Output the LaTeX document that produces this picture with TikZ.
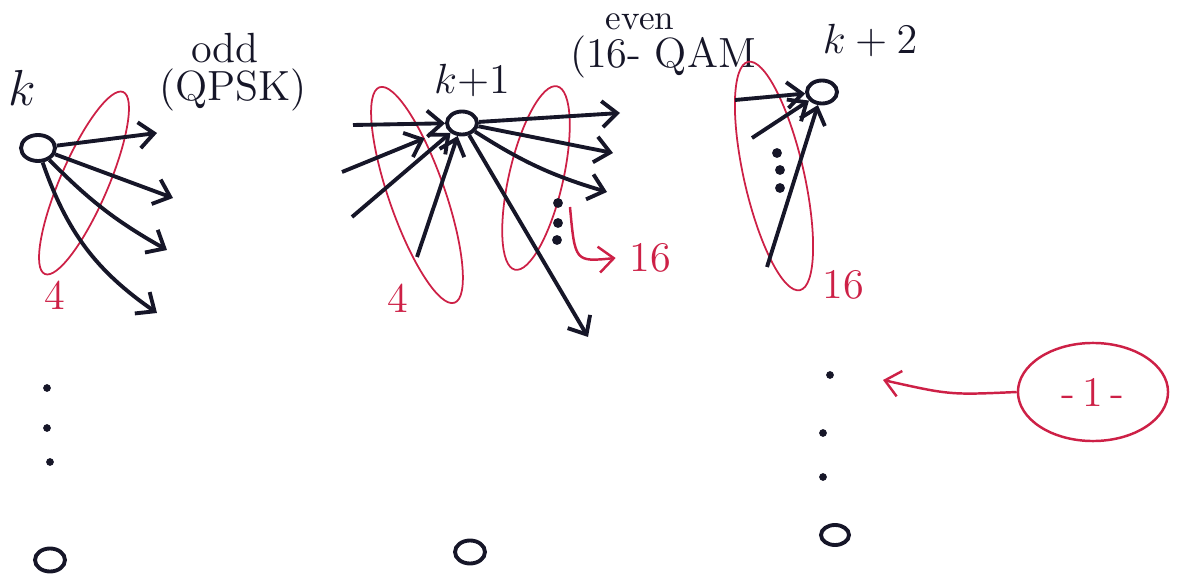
\documentclass[tikz,border=0pt]{standalone}
\usetikzlibrary{arrows.meta,shapes.geometric}
\definecolor{ink}{RGB}{22,22,40}
\definecolor{pen}{RGB}{205,32,70}
\tikzset{
  state/.style={draw, ellipse, line width=1.1pt, minimum width=0.3cm, minimum height=0.23cm, inner sep=0pt},
  group/.style={draw=pen, line width=0.5pt},
  mark16/.style={pen, font=\large}
}
\begin{document}
\begin{tikzpicture}[x=0.01cm, y=0.01cm, ink, line width=1.1pt, >={Straight Barb[length=1.5mm, width=2.6mm]}]
    \useasboundingbox (0,0) rectangle (1181,-576);

    % First column of nodes
    \node[state, minimum width=0.34cm, minimum height=0.26cm] (K0) at (38,-148) {};
    \node (lk0) at (22,-88) {\Large $k$};
    \node (odd) at (225,-48) {\large odd};
    \node (qpsk) at (233,-90) {\large (QPSK)};
    \node[mark16] (n4a) at (55,-295) {4};
    \node[state] (E0) at (50,-560) {};

    % Second column of nodes
    \node[state] (K1) at (462,-123) {};
    \node (lk1) at (472,-80) {\large $k{+}1$};
    \node (even) at (640,-22) {even};
    \node (qam) at (663,-57) {\large (16- QAM};
    \node[mark16] (n4b) at (398,-298) {4};
    \node[mark16] (n16a) at (650,-258) {16};
    \node[state] (E1) at (470,-552) {};

    % Third column of nodes
    \node[state] (K2) at (822,-92) {};
    \node (lk2) at (870,-40) {\large $k+2$};
    \node[mark16] (n16b) at (843,-285) {16};
    \node[state, minimum width=0.28cm, minimum height=0.2cm] (E2) at (835,-535) {};
    \node[pen, draw, ellipse, line width=0.7pt, minimum width=1.5cm, minimum height=0.98cm, inner sep=0pt, font=\large] (note) at (1093,-392) {-\,1\,-};

    % Free ends of the branches
    \coordinate (a1) at (157,-133);
    \coordinate (a2) at (173,-198);
    \coordinate (a3) at (167,-250);
    \coordinate (a4) at (157,-313);
    \coordinate (b1) at (353,-125);
    \coordinate (b2) at (342,-172);
    \coordinate (b3) at (352,-217);
    \coordinate (b4) at (417,-257);
    \coordinate (c1) at (620,-113);
    \coordinate (c2) at (613,-153);
    \coordinate (c3) at (607,-192);
    \coordinate (c4) at (588,-337);
    \coordinate (d1) at (735,-100);
    \coordinate (d2) at (752,-138);
    \coordinate (d3) at (767,-267);
    \coordinate (r1) at (570,-207);
    \coordinate (r2) at (883,-380);

    % Groups of branches
    \draw[group, rotate around={66.7:(84,-183)}] (84,-183) ellipse [x radius=0.99cm, y radius=0.24cm];
    \draw[group, rotate around={-70.8:(417,-195)}] (417,-195) ellipse [x radius=1.14cm, y radius=0.28cm];
    \draw[group, rotate around={77:(536,-178)}] (536,-178) ellipse [x radius=0.94cm, y radius=0.27cm];
    \draw[group, rotate around={102.8:(774,-176)}] (774,-176) ellipse [x radius=1.17cm, y radius=0.3cm];

    % Edges out of k
    \draw[->] (K0) -- (a1);
    \draw[->] (K0) -- (a2);
    \draw[->] (K0) to[bend right=8] (a3);
    \draw[->] (K0) to[bend right=18] (a4);

    % Edges into and out of k+1
    \draw[->] (b1) -- (K1);
    \draw[->, shorten >=2.4mm] (b2) -- (K1);
    \draw[->] (b3) -- (K1);
    \draw[->] (b4) -- (K1);
    \draw[->] (K1) -- (c1);
    \draw[->] (K1) -- (c2);
    \draw[->] (K1) to[bend right=8] (c3);
    \draw[->] (K1) -- (c4);

    % Edges into k+2
    \draw[->] (d1) -- (K2);
    \draw[->] (d2) -- (K2);
    \draw[->] (d3) -- (K2);

    % Red pointers
    \draw[->, pen, line width=0.7pt] (r1) .. controls (575,-262) .. (n16a.west);
    \draw[->, pen, line width=0.7pt] (note.west) .. controls (950,-395) .. (r2);

    % Dots
    \fill (558,-203) circle (1.4pt);
    \fill (558,-223) circle (1.4pt);
    \fill (557,-240) circle (1.4pt);
    \fill (777,-153) circle (1.4pt);
    \fill (780,-170) circle (1.4pt);
    \fill (780,-188) circle (1.4pt);
    \fill (47,-388) circle (1.1pt);
    \fill (47,-428) circle (1.1pt);
    \fill (50,-462) circle (1.1pt);
    \fill (830,-375) circle (1.1pt);
    \fill (823,-433) circle (1.1pt);
    \fill (823,-477) circle (1.1pt);
  \end{tikzpicture}
\end{document}
